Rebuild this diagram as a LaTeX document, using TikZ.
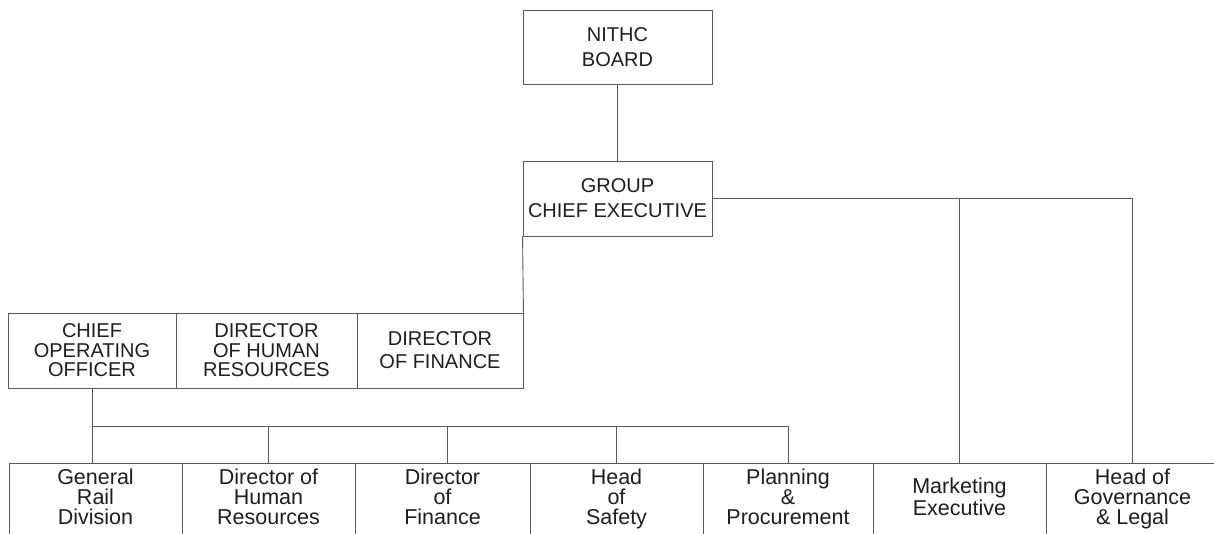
\documentclass[tikz,border=0pt]{standalone}
\usepackage{fontspec}
\setmainfont{Liberation Sans}
\definecolor{linec}{HTML}{5A5A5A}
\definecolor{textc}{HTML}{1E1E1E}
\newcommand\TopS{\rule{0pt}{16pt}}
\newcommand\BotS{\rule[-5pt]{0pt}{5pt}}
\begin{document}
\begin{tikzpicture}[x=1pt,y=-1pt,
  box/.style={draw=linec, line width=0.9pt, inner sep=0pt, align=center, text=textc,
    font=\fontsize{20}{19.5}\selectfont},
  twocap/.style={font=\fontsize{20}{25}\selectfont},
  low/.style={minimum width=173pt, minimum height=72pt,
    font=\fontsize{21.5}{19.8}\selectfont},
  conn/.style={draw=linec, line width=0.9pt},
  ]
\useasboundingbox (0,0) rectangle (1214,533);
\clip (0,0) rectangle (1214,533);
% top
\node[box, twocap, minimum width=189pt, minimum height=74pt] (board) at (617.5,47) {NITHC\\BOARD};
\node[box, twocap, minimum width=189pt, minimum height=75pt] (gce) at (617.5,198.5) {GROUP\\CHIEF EXECUTIVE};
% second row
\node[box, minimum width=168pt, minimum height=75pt] (coo) at (92,350.5) {CHIEF\\OPERATING\\OFFICER};
\node[box, minimum width=181pt, minimum height=75pt] (dhr) at (266.5,350.5) {DIRECTOR\\OF HUMAN\\RESOURCES};
\node[box, twocap, font=\fontsize{20}{23}\selectfont, minimum width=166pt, minimum height=75pt] (dfin) at (440,350.5) {DIRECTOR\\OF FINANCE};
% bottom row
\node[box, low] (gen) at (95.5,499) {\TopS General\\Rail\\Division\BotS};
\node[box, low] (hr2) at (268.5,499) {\TopS Director of\\Human\\Resources\BotS};
\node[box, low, minimum width=175pt] (fin2) at (442.5,499) {\TopS Director\\of\\Finance\BotS};
\node[box, low] (saf) at (616.5,499) {\TopS Head\\of\\Safety\BotS};
\node[box, low, minimum width=170pt] (plan) at (788,499) {\TopS Planning\\\&\\Procurement\BotS};
\node[box, low, font=\fontsize{21.5}{22}\selectfont] (mkt) at (959.5,499) {\TopS Marketing\\Executive\BotS};
\node[box, low] (gov) at (1132.5,499) {\TopS Head of\\Governance\\\& Legal\BotS};
% connectors
\draw[conn] (board.south) -- (gce.north);
\draw[conn] (gce.east) -| (gov.north);
\draw[conn] (mkt.north) -- (mkt.north |- gce.east);
\draw[conn] (gce.south west) -- (dfin.north east);
\coordinate (bus) at (92,426);
\draw[conn] (coo.south) -- (coo.south |- gen.north);
\draw[conn] (bus) -| (plan.north);
\draw[conn] (hr2.north) -- (hr2.north |- bus);
\draw[conn] ([xshift=4.5pt]fin2.north) -- ([xshift=4.5pt]fin2.north |- bus);
\draw[conn] (saf.north) -- (saf.north |- bus);
\end{tikzpicture}
\end{document}
